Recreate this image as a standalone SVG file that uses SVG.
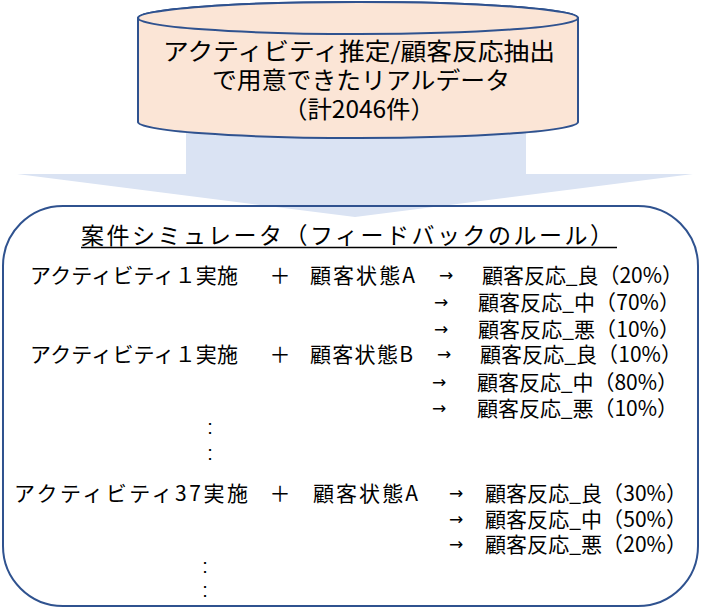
<svg xmlns="http://www.w3.org/2000/svg" width="701" height="609" viewBox="0 0 701 609">
<style>
.jp{font-family:"Noto Sans CJK JP","Noto Sans",sans-serif;fill:#000}
.cyl{font-size:24px}
.ttl{font-size:23px}
.row{font-size:21px}
.arr{font-family:"DejaVu Sans","Liberation Sans",sans-serif;font-size:17px;fill:#000}
.dots{font-family:"Liberation Sans",sans-serif;font-size:20px;fill:#000}
</style>
<g id="connectors">
<polygon id="flow-arrow" points="186,120 526,120 526,174 693,174 355,217 17,174 186,174" fill="#DAE3F3"/>
</g>
<g id="source-data">
<path d="M138,18 L138,122 A220,16 0 0 0 578,122 L578,18 A220,16 0 0 0 138,18 Z" fill="#FBE5D6" stroke="#2F528F" stroke-width="2"/>
<ellipse cx="358" cy="18" rx="220" ry="16" fill="#FBE5D6" stroke="#2F528F" stroke-width="2"/>
<text class="jp cyl" x="359" y="60" text-anchor="middle" textLength="392" lengthAdjust="spacingAndGlyphs">アクティビティ推定/顧客反応抽出</text>
<text class="jp cyl" x="361" y="89" text-anchor="middle" textLength="298" lengthAdjust="spacingAndGlyphs">で用意できたリアルデータ</text>
<text class="jp cyl" x="359" y="118" text-anchor="middle" textLength="152" lengthAdjust="spacingAndGlyphs">（計2046件）</text>
</g>
<g id="simulator">
<rect x="3" y="206" width="695" height="400" rx="60" ry="60" fill="none" stroke="#2F528F" stroke-width="2"/>
<text class="jp ttl" x="81" y="244" textLength="532" lengthAdjust="spacing">案件シミュレータ（フィードバックのルール）</text>
<line x1="81" y1="247.5" x2="617" y2="247.5" stroke="#000" stroke-width="1.5"/>

<text class="jp row" x="30" y="283" textLength="208" lengthAdjust="spacing">アクティビティ１実施</text>
<text class="jp row" x="280" y="283" text-anchor="middle">＋</text>
<text class="jp row" x="310" y="283" textLength="105" lengthAdjust="spacing">顧客状態A</text>
<text class="arr" x="439" y="281">→</text>
<text class="jp row" x="482" y="283" textLength="201" lengthAdjust="spacing">顧客反応_良（20%）</text>
<text class="arr" x="434" y="308">→</text>
<text class="jp row" x="478" y="310" textLength="202" lengthAdjust="spacing">顧客反応_中（70%）</text>
<text class="arr" x="434" y="335">→</text>
<text class="jp row" x="478" y="337" textLength="202" lengthAdjust="spacing">顧客反応_悪（10%）</text>

<text class="jp row" x="30" y="362" textLength="208" lengthAdjust="spacing">アクティビティ１実施</text>
<text class="jp row" x="280" y="362" text-anchor="middle">＋</text>
<text class="jp row" x="310" y="362" textLength="103" lengthAdjust="spacing">顧客状態B</text>
<text class="arr" x="437" y="360">→</text>
<text class="jp row" x="480" y="362" textLength="202" lengthAdjust="spacing">顧客反応_良（10%）</text>
<text class="arr" x="432" y="388">→</text>
<text class="jp row" x="477" y="390" textLength="201" lengthAdjust="spacing">顧客反応_中（80%）</text>
<text class="arr" x="432" y="414">→</text>
<text class="jp row" x="477" y="416" textLength="201" lengthAdjust="spacing">顧客反応_悪（10%）</text>

<text class="dots" x="210" y="434" text-anchor="middle">:</text>
<text class="dots" x="210" y="460" text-anchor="middle">:</text>

<text class="jp row" x="14" y="501" textLength="234" lengthAdjust="spacing">アクティビティ37実施</text>
<text class="jp row" x="280" y="501" text-anchor="middle">＋</text>
<text class="jp row" x="313" y="501" textLength="105" lengthAdjust="spacing">顧客状態A</text>
<text class="arr" x="449" y="499">→</text>
<text class="jp row" x="485" y="501" textLength="202" lengthAdjust="spacing">顧客反応_良（30%）</text>
<text class="arr" x="449" y="525">→</text>
<text class="jp row" x="485" y="527" textLength="202" lengthAdjust="spacing">顧客反応_中（50%）</text>
<text class="arr" x="449" y="550">→</text>
<text class="jp row" x="485" y="552" textLength="202" lengthAdjust="spacing">顧客反応_悪（20%）</text>

<text class="dots" x="205" y="573" text-anchor="middle">:</text>
<text class="dots" x="205" y="597" text-anchor="middle">:</text>
</g>
</svg>
